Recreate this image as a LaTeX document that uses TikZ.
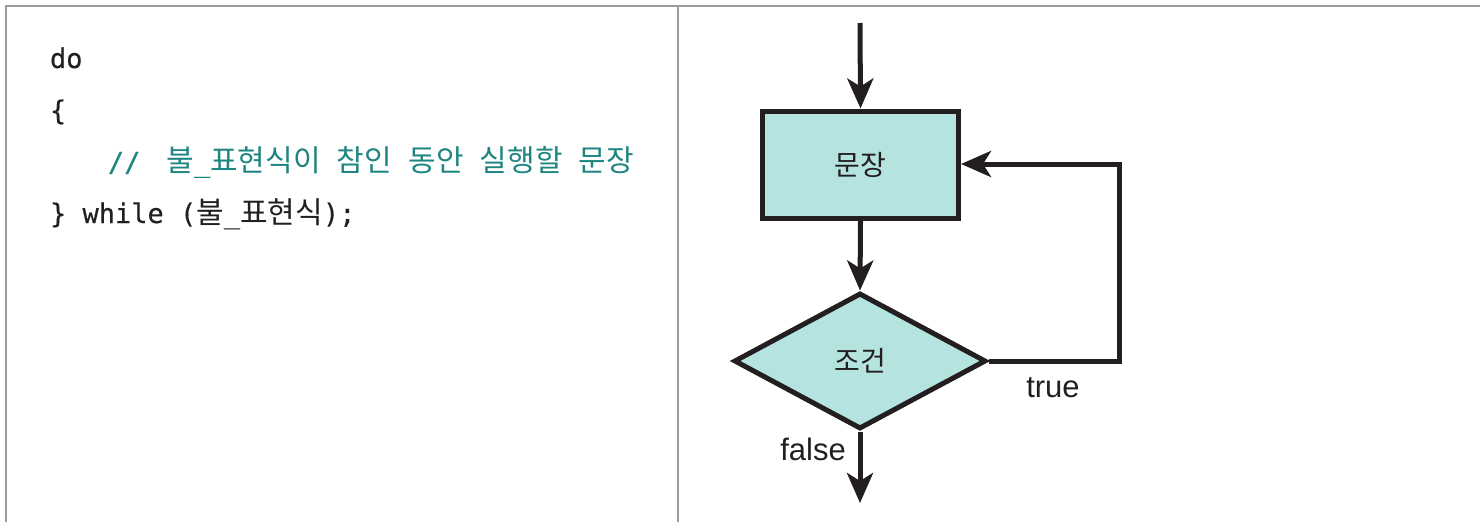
\documentclass[tikz,border=0pt]{standalone}
\usepackage{fontspec}
\setmainfont{Liberation Sans}
\newfontfamily\codefont[FakeBold=0.4]{DejaVu Sans Mono}
\newfontfamily\krcode{Noto Sans CJK KR}
\newfontfamily\krlabel{Noto Sans CJK KR}
\usetikzlibrary{arrows.meta,shapes.geometric}
\definecolor{framegray}{HTML}{9C9C9E}
\definecolor{ink}{HTML}{231F20}
\definecolor{teal}{HTML}{1F8580}
\definecolor{boxfill}{HTML}{B5E3E0}
\newcommand{\kr}[1]{{\krcode\fontsize{30}{32}\selectfont #1}}
\tikzset{
  code/.style={anchor=base west, inner sep=0pt, outer sep=0pt, text=ink, font=\codefont\fontsize{27}{30}\selectfont},
  comment/.style={code, text=teal},
  flow/.style={draw=ink, line width=5pt, fill=boxfill, inner sep=0pt, text=ink, font=\krlabel\fontsize{28}{30}\selectfont},
  conn/.style={draw=ink, line width=5pt, -{Stealth[length=30pt,width=26pt,inset=8pt]}},
  lbl/.style={inner sep=0pt, text=ink, font=\fontsize{31}{33}\selectfont},
  frame/.style={draw=framegray, line width=2pt}
}
\begin{document}
\begin{tikzpicture}[x=1pt,y=-1pt]
\useasboundingbox (0,0) rectangle (1480,522);
% frame
\coordinate (fTL) at (6,6);
\coordinate (fTR) at (1480,6);
\coordinate (fBL) at (6,522);
\coordinate (dT) at (678,6);
\coordinate (dB) at (678,522);
\draw[frame] (fBL) -- (fTL) -- (fTR);
\draw[frame] (dT) -- (dB);
% code
\node[code] (l1) at (50,68) {do};
\node[code] (l2) at (50,120) {\{};
\node[comment] (l3) at (108,171.5) {//\hspace{26pt}\kr{불}\_\kr{표현식이} \kr{참인} \kr{동안} \kr{실행할} \kr{문장}};
\node[code] (l4) at (50,223) {\} while (\kr{불}\_\kr{표현식});};
% flowchart
\node[flow, rectangle, minimum width=196pt, minimum height=107pt] (stmt) at (860.5,164.5) {문장};
\node[flow, diamond, minimum width=252pt, minimum height=136pt] (cond) at (860,361) {조건};
\coordinate (start) at (860,23);
\coordinate (exit) at (860,503);
\coordinate (loopA) at (1119,361);
\coordinate (loopB) at (1119,164);
\draw[conn] (start) -- (stmt.north);
\draw[conn] (stmt.south) -- (cond.north);
\draw[conn] (cond.south) -- (exit);
\draw[conn] (cond.east) -- (loopA) -- (loopB) -- (stmt.east |- loopB);
\node[lbl, anchor=base] (ltrue) at (1053,397) {true};
\node[lbl, anchor=base east] (lfalse) at (846,460) {false};
\end{tikzpicture}
\end{document}
